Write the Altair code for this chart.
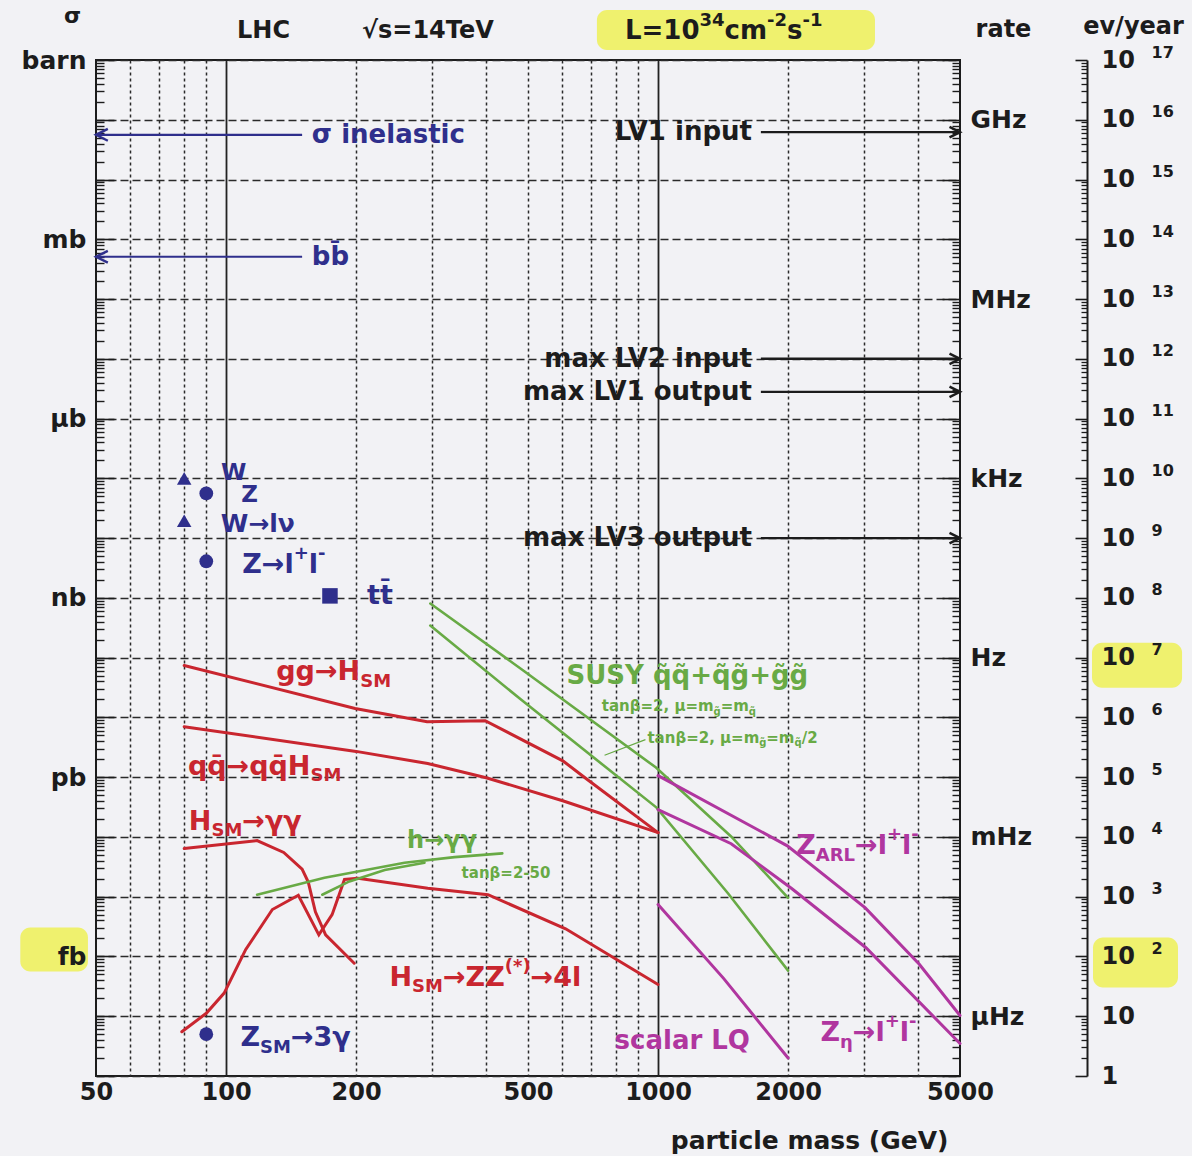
import altair as alt
import pandas as pd

# ---------------- cross sections: mass in GeV, sigma in barn ----------------
gg_h_mass = [80, 199, 292, 398, 602, 681, 1000]
gg_h_sigma = [7.4e-11, 1.41e-11, 8.5e-12, 8.8e-12, 1.88e-12, 9.5e-13, 1.18e-13]

qq_h_mass = [80, 200, 293, 400, 604, 1000]
qq_h_sigma = [7.0e-12, 2.7e-12, 1.69e-12, 9.8e-13, 4.0e-13, 1.18e-13]

h_gaga_mass = [80, 118, 136, 150, 155, 161, 170, 198]
h_gaga_sigma = [6.4e-14, 8.7e-14, 5.5e-14, 2.9e-14, 1.76e-14, 5.6e-15, 2.3e-15, 7.7e-16]

h_zz_mass = [79, 90, 99, 111, 128, 147, 164, 176, 188, 202, 293, 404, 611, 1000]
h_zz_sigma = [5.5e-17, 1.12e-16, 2.44e-16, 1.3e-15, 6.1e-15, 1.06e-14, 2.3e-15,
              5.0e-15, 1.94e-14, 2.03e-14, 1.38e-14, 1.08e-14, 2.9e-15, 3.4e-16]

mssm_gaga_hi_mass = [118, 169, 259, 338, 436]
mssm_gaga_hi_sigma = [1.08e-14, 2.07e-14, 3.7e-14, 4.6e-14, 5.3e-14]
mssm_gaga_lo_mass = [167, 193, 233, 288]
mssm_gaga_lo_sigma = [1.08e-14, 1.8e-14, 2.8e-14, 3.7e-14]

susy_a_mass = [297, 483, 989, 1476, 2000]
susy_a_sigma = [8.05e-10, 6.4e-11, 1.45e-12, 1.02e-13, 9.6e-15]
susy_b_mass = [297, 484, 992, 1453, 2000]
susy_b_sigma = [3.45e-10, 1.93e-11, 3.1e-13, 1.13e-14, 5.8e-16]

z_arl_mass = [1000, 1992, 3018, 4025, 5000]
z_arl_sigma = [1.06e-12, 7.1e-14, 6.5e-15, 7.4e-16, 1.03e-16]
z_eta_mass = [1000, 1477, 2042, 3029, 5000]
z_eta_sigma = [2.87e-13, 7.7e-14, 1.36e-14, 1.4e-15, 3.5e-17]
lq_mass = [1000, 1418, 2000]
lq_sigma = [7.4e-15, 4.3e-16, 2.0e-17]

# single measurements
w_mass = [80, 80]
w_sigma = [1.0e-7, 1.96e-8]
z_mass = [90, 90, 90]
z_sigma = [5.6e-8, 4.1e-9, 5.0e-17]
top_mass = [174]
top_sigma = [1.08e-9]

# horizontal levels with arrows
bg_names = ["σ inelastic", "bb\u0304"]
bg_sigma = [0.056, 5.1e-4]
bg_from, bg_to = 150, 50
trig_names = ["LV1 input", "max LV2 input", "max LV1 output", "max LV3 output"]
trig_sigma = [0.062, 1.0e-5, 2.8e-6, 1.0e-8]
trig_from, trig_to = 1730, 5000
trig_label_mass = 1650

# leader from the second SUSY caption to its curve
leader_mass = [935, 752]
leader_sigma = [4.24e-12, 2.33e-12]

# marker-pen highlights (mass range, sigma range)
hl_m1 = [722, 33.4, 10106, 10160]
hl_m2 = [3178, 47.9, 16330, 15980]
hl_s1 = [6.86, 3.05e-15, 1.78e-10, 2.08e-15]
hl_s2 = [1.47, 5.6e-16, 3.15e-11, 3.03e-16]

# ---------------- styling ----------------
FONT = "DejaVu Sans"
INK = "#1c1c1c"
BG = "#f2f2f5"
RED = "#c9262f"
GREEN = "#68aa45"
PURPLE = "#b0369f"
BLUE = "#2f2f8c"
W_PLOT, H_PLOT = 864, 1016

xs = alt.Scale(type="log", domain=[50, 5000], nice=False)
ys = alt.Scale(type="log", domain=[1e-17, 1], nice=False)

decades = [10.0 ** k for k in range(-17, 1)]
minors = [n * 10.0 ** k for k in range(-17, 0) for n in range(2, 10)]

# approximate advance widths (em) of DejaVu Sans Bold, for placing sub/superscripts
EM = {" ": .348, "(": .457, ")": .457, "*": .522, "+": .838, "-": .415, "/": .365, "=": .838,
      ",": .38, "→": .838, "γ": .652, "β": .72, "μ": .72, "η": .712, "ν": .652, "σ": .71,
      "A": .774, "H": .837, "L": .637, "M": .995, "R": .770, "S": .720, "T": .682, "U": .812,
      "V": .774, "W": 1.103, "Y": .724, "Z": .725, "Q": .850, "C": .734, "e": .678,
      "a": .675, "b": .716, "c": .593, "g": .716, "h": .712, "i": .343, "l": .343,
      "m": 1.042, "n": .712, "p": .716, "q": .716, "r": .493, "s": .595, "t": .478,
      "u": .712, "v": .652, "y": .652, "√": .838}
for d in "0123456789":
    EM[d] = .696
for c in "\u0303\u0304":
    EM[c] = 0.0


def text_width(s, size):
    return size * sum(EM.get(ch, 0.68) for ch in s)


def layout_parts(seq, size, x0=0.0):
    rows, dx = [], x0
    for text, kind in seq:
        fs = size if kind == "m" else round(size * 0.68)
        dy = 0.0 if kind == "m" else (0.36 * size if kind == "b" else -0.4 * size)
        rows.append(dict(text=text, dx=dx, dy=dy, fs=fs))
        dx += text_width(text, fs)
    return rows


# annotations inside the plot: (pieces, mass, sigma, colour, font size)
annotations = [
    ([("σ inelastic", "m")], 158, 0.055, BLUE, 26),
    ([("bb\u0304", "m")], 158, 5.0e-4, BLUE, 26),
    ([("W", "m")], 97.3, 1.25e-7, BLUE, 23),
    ([("Z", "m")], 108.5, 5.3e-8, BLUE, 23),
    ([("W→lν", "m")], 97.2, 1.75e-8, BLUE, 25),
    ([("Z→l", "m"), ("+", "p"), ("l", "m"), ("-", "p")], 109, 3.56e-9, BLUE, 27),
    ([("tt\u0304", "m")], 212, 1.06e-9, BLUE, 27),
    ([("Z", "m"), ("SM", "b"), ("→3γ", "m")], 108, 4.35e-17, BLUE, 27),
    ([("gg→H", "m"), ("SM", "b")], 130.7, 5.65e-11, RED, 27),
    ([("qq\u0304→qq\u0304H", "m"), ("SM", "b")], 81.6, 1.5e-12, RED, 27),
    ([("H", "m"), ("SM", "b"), ("→γγ", "m")], 82, 1.81e-13, RED, 27),
    ([("H", "m"), ("SM", "b"), ("→ZZ", "m"), ("(*)", "p"), ("→4l", "m")], 239, 4.4e-16, RED, 27),
    ([("h→γγ", "m")], 262.5, 8.65e-14, GREEN, 24),
    ([("tanβ=2-50", "m")], 351, 2.5e-14, GREEN, 15),
    ([("SUSY q\u0303q\u0303+q\u0303g\u0303+g\u0303g\u0303", "m")], 614, 4.98e-11, GREEN, 26),
    ([("tanβ=2, μ=m", "m"), ("g\u0303", "b"), ("=m", "m"), ("q\u0303", "b")], 741, 1.53e-11, GREEN, 15),
    ([("tanβ=2, μ=m", "m"), ("g\u0303", "b"), ("=m", "m"), ("q\u0303", "b"), ("/2", "m")],
     945, 4.58e-12, GREEN, 15),
    ([("Z", "m"), ("ARL", "b"), ("→l", "m"), ("+", "p"), ("l", "m"), ("-", "p")], 2089, 7.1e-14, PURPLE, 27),
    ([("scalar LQ", "m")], 793, 3.85e-17, PURPLE, 26),
    ([("Z", "m"), ("η", "b"), ("→l", "m"), ("+", "p"), ("l", "m"), ("-", "p")], 2376, 5.2e-17, PURPLE, 27),
]

ann_rows = []
for seq, m, s, col, size in annotations:
    for r in layout_parts(seq, size):
        r.update(m=m, s=s, color=col)
        ann_rows.append(r)
ann_df = pd.DataFrame(ann_rows)

# headline above the frame (pixel layout relative to the plot origin)
head_rows = []
head_rows += layout_parts([("LHC", "m")], 24, 141)
head_rows += layout_parts([("√s=14TeV", "m")], 24, 266)
head_rows += layout_parts([("L=10", "m"), ("34", "p"), ("cm", "m"), ("-2", "p"), ("s", "m"), ("-1", "p")], 26, 529)
head_df = pd.DataFrame(head_rows)

# ---------------- helpers ----------------
def X(axis=None):
    return alt.X("m:Q", scale=xs, axis=axis)


def Y(axis=None):
    return alt.Y("s:Q", scale=ys, axis=axis)


def axis(**kw):
    base = dict(title=None, labels=False, ticks=False, domain=False, grid=False,
                labelFont=FONT, labelFontWeight="bold", labelColor=INK, tickColor=INK,
                labelOverlap=False, titleFont=FONT, titleFontWeight="bold", titleColor=INK)
    base.update(kw)
    return alt.Axis(**base)


anchor = pd.DataFrame({"m": [100.0], "s": [1e-8]})


def axis_layer(yax, xax=None):
    return alt.Chart(anchor).mark_point(opacity=0).encode(x=X(xax), y=Y(yax))


x_labels = axis(orient="bottom", values=[50, 100, 200, 500, 1000, 2000, 5000], format="d",
                labels=True, labelFontSize=24, labelPadding=4, labelFlush=False,
                title="particle mass (GeV)", titleFontSize=25, titleX=852, titleY=64,
                titleAlign="right", titleBaseline="middle", zindex=1)
x_grid_dash = axis(orient="bottom", grid=True, gridDash=[3, 3], gridColor="#2a2a2a", gridWidth=1.5,
                   values=[60, 70, 80, 90, 200, 300, 400, 500, 600, 700, 800, 900, 2000, 3000, 4000])
x_grid_solid = axis(orient="bottom", grid=True, gridColor="#222222", gridWidth=1.8, values=[100, 1000])

left_labels = axis(orient="left", values=[1, 1e-3, 1e-6, 1e-9, 1e-12, 1e-15], labels=True,
                   labelExpr="['barn','mb','µb','nb','pb','fb'][round(-log(datum.value)/LN10/3)]",
                   labelFontSize=25, labelPadding=10, zindex=1,
                   title="σ", titleAngle=0, titleX=-24, titleY=-45, titleFontSize=22,
                   titleAlign="center", titleBaseline="middle")
y_grid = axis(orient="left", values=decades, grid=True, gridDash=[8, 4], gridColor="#2a2a2a", gridWidth=1.4)
left_major = axis(orient="right", offset=-W_PLOT, values=decades, ticks=True, tickSize=18, tickWidth=1.6)
left_minor = axis(orient="right", offset=-W_PLOT, values=minors, ticks=True, tickSize=8, tickWidth=1.4)
right_major = axis(orient="left", offset=-W_PLOT, values=decades, ticks=True, tickSize=18, tickWidth=1.6)
right_minor = axis(orient="left", offset=-W_PLOT, values=minors, ticks=True, tickSize=8, tickWidth=1.4)
rate_labels = axis(orient="right", values=[1e-1, 1e-4, 1e-7, 1e-10, 1e-13, 1e-16], labels=True,
                   labelExpr="['GHz','MHz','kHz','Hz','mHz','µHz'][round((-log(datum.value)/LN10-1)/3)]",
                   labelFontSize=25, labelPadding=10, zindex=1,
                   title="rate", titleAngle=0, titleX=43, titleY=-31, titleFontSize=24,
                   titleAlign="center", titleBaseline="middle")
EV_OFF = 127
ev_major = axis(orient="left", offset=-(W_PLOT + EV_OFF), values=decades, ticks=True, tickSize=12,
                tickWidth=1.6, domain=True, domainColor=INK, domainWidth=2)
ev_minor = axis(orient="left", offset=-(W_PLOT + EV_OFF), values=minors, ticks=True, tickSize=6, tickWidth=1.3)
ev_base = axis(orient="right", offset=EV_OFF, values=decades, labels=True,
               labelExpr="round(log(datum.value)/LN10) == -17 ? '1' : '10'",
               labelFontSize=24, labelPadding=14, zindex=1,
               title="ev/year", titleAngle=0, titleX=46, titleY=-34, titleFontSize=24,
               titleAlign="center", titleBaseline="middle")
ev_exp = axis(orient="right", offset=EV_OFF, values=decades, labels=True,
              labelExpr="(round(log(datum.value)/LN10) + 17) >= 2 ? '' + (round(log(datum.value)/LN10) + 17) : ''",
              labelFontSize=16, labelPadding=64, labelOffset=-8, zindex=1)

axis_layers = [
    axis_layer(left_labels, x_labels),
    axis_layer(y_grid, x_grid_dash),
    axis_layer(left_major, x_grid_solid),
    axis_layer(left_minor),
    axis_layer(right_major),
    axis_layer(right_minor),
    axis_layer(rate_labels),
    axis_layer(ev_major),
    axis_layer(ev_minor),
    axis_layer(ev_base),
    axis_layer(ev_exp),
]

# ---------------- marks ----------------
highlights = alt.Chart(pd.DataFrame({"m": hl_m1, "m2": hl_m2, "s": hl_s1, "s2": hl_s2})).mark_rect(
    color="#eef04c", opacity=0.8, cornerRadius=10
).encode(x=X(), x2="m2:Q", y=Y(), y2="s2:Q")


def curves(items):
    frames = []
    for name, mass, sigma in items:
        frames.append(pd.DataFrame({"series": name, "m": mass, "s": sigma, "k": range(len(mass))}))
    return pd.concat(frames, ignore_index=True)


red_df = curves([("gg", gg_h_mass, gg_h_sigma), ("qq", qq_h_mass, qq_h_sigma),
                 ("gaga", h_gaga_mass, h_gaga_sigma), ("zz", h_zz_mass, h_zz_sigma)])
green_df = curves([("susy_a", susy_a_mass, susy_a_sigma), ("susy_b", susy_b_mass, susy_b_sigma),
                   ("hgaga_hi", mssm_gaga_hi_mass, mssm_gaga_hi_sigma),
                   ("hgaga_lo", mssm_gaga_lo_mass, mssm_gaga_lo_sigma)])
purple_df = curves([("arl", z_arl_mass, z_arl_sigma), ("eta", z_eta_mass, z_eta_sigma),
                    ("lq", lq_mass, lq_sigma)])


def line_layer(df, color, width):
    return alt.Chart(df).mark_line(color=color, strokeWidth=width, strokeCap="round").encode(
        x=X(), y=Y(), detail="series:N", order="k:Q")


leader = alt.Chart(pd.DataFrame({"m": leader_mass, "s": leader_sigma, "k": [0, 1]})).mark_line(
    color=GREEN, strokeWidth=1.2).encode(x=X(), y=Y(), order="k:Q")

bg_df = pd.DataFrame({"name": bg_names, "s": bg_sigma, "m": [bg_from] * 2, "m2": [bg_to] * 2})
trig_df = pd.DataFrame({"name": trig_names, "s": trig_sigma, "m": [trig_from] * 4, "m2": [trig_to] * 4,
                        "mt": [trig_label_mass] * 4})

bg_rules = alt.Chart(bg_df).mark_rule(color=BLUE, strokeWidth=2.2).encode(x=X(), x2="m2:Q", y=Y())
bg_heads = alt.Chart(bg_df).mark_point(shape="M2,-1L0,0L2,1", filled=False, color=BLUE,
                                        strokeWidth=2.4, size=140, opacity=1).encode(
    x=alt.X("m2:Q", scale=xs, axis=None), y=Y())
trig_rules = alt.Chart(trig_df).mark_rule(color=INK, strokeWidth=2.4).encode(x=X(), x2="m2:Q", y=Y())
trig_heads = alt.Chart(trig_df).mark_point(shape="M-2,-1L0,0L-2,1", filled=False, color=INK,
                                            strokeWidth=2.4, size=110, opacity=1).encode(
    x=alt.X("m2:Q", scale=xs, axis=None), y=Y())
trig_text = alt.Chart(trig_df).mark_text(font=FONT, fontWeight="bold", fontSize=26, align="right",
                                          baseline="middle", color=INK).encode(
    x=alt.X("mt:Q", scale=xs, axis=None), y=Y(), text="name:N")

w_pts = alt.Chart(pd.DataFrame({"m": w_mass, "s": w_sigma})).mark_point(
    shape="triangle-up", filled=True, color=BLUE, size=210, opacity=1).encode(x=X(), y=Y())
z_pts = alt.Chart(pd.DataFrame({"m": z_mass, "s": z_sigma})).mark_point(
    shape="circle", filled=True, color=BLUE, size=190, opacity=1).encode(x=X(), y=Y())
top_pts = alt.Chart(pd.DataFrame({"m": top_mass, "s": top_sigma})).mark_point(
    shape="square", filled=True, color=BLUE, size=240, opacity=1).encode(x=X(), y=Y())

ann_text = alt.Chart(ann_df).mark_text(
    font=FONT, fontWeight="bold", align="left", baseline="middle",
    dx=alt.ExprRef(expr="datum.dx"), dy=alt.ExprRef(expr="datum.dy")
).encode(x=X(), y=Y(), text="text:N",
         size=alt.Size("fs:Q", scale=None), color=alt.Color("color:N", scale=None))

head_text = alt.Chart(head_df).mark_text(
    font=FONT, fontWeight="bold", align="left", baseline="middle", color=INK,
    dx=alt.ExprRef(expr="datum.dx"), dy=alt.ExprRef(expr="datum.dy")
).encode(x=alt.value(0), y=alt.value(-29), text="text:N", size=alt.Size("fs:Q", scale=None))

chart = alt.layer(
    highlights,
    *axis_layers,
    line_layer(red_df, RED, 3),
    line_layer(green_df, GREEN, 2.6),
    line_layer(purple_df, PURPLE, 3),
    leader,
    bg_rules, bg_heads, trig_rules, trig_heads, trig_text,
    w_pts, z_pts, top_pts,
    ann_text, head_text,
).resolve_axis(x="independent", y="independent").properties(
    width=W_PLOT, height=H_PLOT,
    autosize=alt.AutoSizeParams(type="none"),
    padding={"left": 96, "top": 60, "right": 1192 - 96 - W_PLOT, "bottom": 1156 - 60 - H_PLOT},
    background=BG,
).configure_view(stroke=INK, strokeWidth=2)

chart.save("out.html", embed_options={"renderer": "svg", "actions": False})
